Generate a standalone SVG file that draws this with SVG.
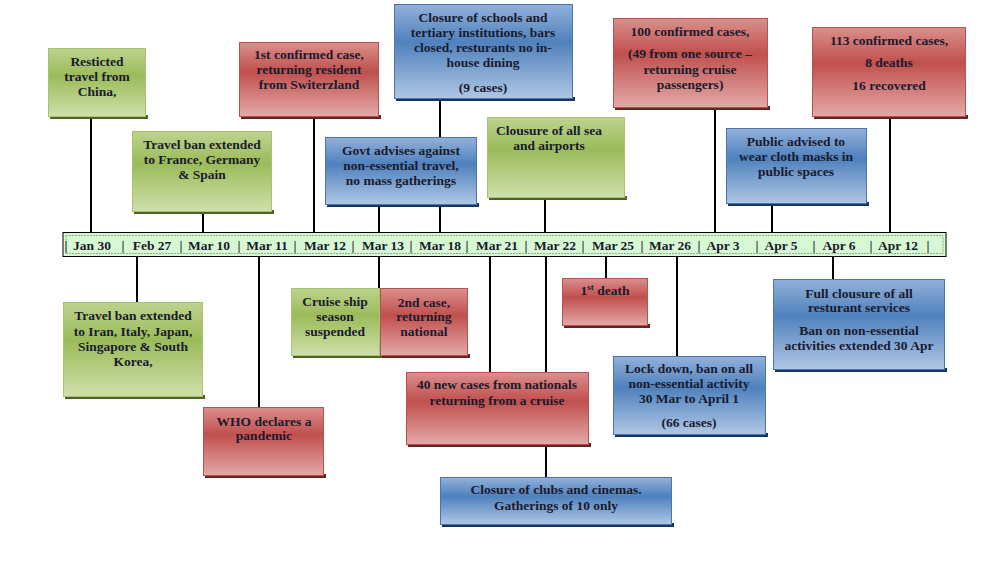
<svg xmlns="http://www.w3.org/2000/svg" width="993" height="564" viewBox="0 0 993 564">
<defs>
<linearGradient id="gG" x1="0" y1="0" x2="0" y2="1">
<stop offset="0" stop-color="#bdd38f"/><stop offset="0.4" stop-color="#9bbb59"/><stop offset="1" stop-color="#cfe0ab"/>
</linearGradient>
<linearGradient id="gR" x1="0" y1="0" x2="0" y2="1">
<stop offset="0" stop-color="#db8f8d"/><stop offset="0.4" stop-color="#c0504d"/><stop offset="1" stop-color="#e3aaa8"/>
</linearGradient>
<linearGradient id="gB" x1="0" y1="0" x2="0" y2="1">
<stop offset="0" stop-color="#93b1da"/><stop offset="0.4" stop-color="#4f81bd"/><stop offset="1" stop-color="#b0c7e5"/>
</linearGradient>
<style>
.g{fill:url(#gG);stroke:#a6c46d;stroke-width:1}
.r{fill:url(#gR);stroke:#b9514e;stroke-width:1}
.b{fill:url(#gB);stroke:#4a76ad;stroke-width:1}
.sg{fill:#4f6228}
.sr{fill:#632523}
.sb{fill:#17375e}
text{font-family:"Liberation Serif","Times New Roman",serif;font-weight:bold;font-size:13.5px;fill:#1a1a2e;text-anchor:middle}
.tl{font-size:13.5px}
.c line{stroke:#000;stroke-width:2}
</style>
</defs>
<rect width="993" height="564" fill="#ffffff"/>

<g class="c" id="connectors">
<line x1="91" y1="117" x2="91" y2="233"/>
<line x1="203" y1="212" x2="203" y2="233"/>
<line x1="314" y1="117" x2="314" y2="233"/>
<line x1="379" y1="205" x2="379" y2="233"/>
<line x1="440" y1="99" x2="440" y2="233"/>
<line x1="545" y1="199" x2="545" y2="233"/>
<line x1="715" y1="108" x2="715" y2="233"/>
<line x1="772" y1="204" x2="772" y2="233"/>
<line x1="890" y1="118" x2="890" y2="233"/>
<line x1="137" y1="256" x2="137" y2="302"/>
<line x1="259" y1="256" x2="259" y2="407"/>
<line x1="379" y1="256" x2="379" y2="288"/>
<line x1="490" y1="256" x2="490" y2="372"/>
<line x1="546" y1="256" x2="546" y2="372"/>
<line x1="546" y1="445" x2="546" y2="477"/>
<line x1="606" y1="256" x2="606" y2="278"/>
<line x1="677" y1="256" x2="677" y2="356"/>
<line x1="833" y1="246" x2="833" y2="279"/>
</g>

<g id="timeline">
<rect x="63" y="232.5" width="883" height="24" fill="#d6f8d2" stroke="#000" stroke-width="1"/>
<rect x="66" y="235.5" width="877" height="18" fill="none" stroke="#8fae8a" stroke-width="1" stroke-dasharray="2,1"/>
<text class="tl" x="66" y="250">|</text>
<text class="tl" x="92" y="250">Jan 30</text>
<text class="tl" x="123" y="250">|</text>
<text class="tl" x="152" y="250">Feb 27</text>
<text class="tl" x="181" y="250">|</text>
<text class="tl" x="209" y="250">Mar 10</text>
<text class="tl" x="239" y="250">|</text>
<text class="tl" x="267" y="250">Mar 11</text>
<text class="tl" x="295" y="250">|</text>
<text class="tl" x="325" y="250">Mar 12</text>
<text class="tl" x="353" y="250">|</text>
<text class="tl" x="383" y="250">Mar 13</text>
<text class="tl" x="411" y="250">|</text>
<text class="tl" x="440" y="250">Mar 18</text>
<text class="tl" x="467" y="250">|</text>
<text class="tl" x="497" y="250">Mar 21</text>
<text class="tl" x="526" y="250">|</text>
<text class="tl" x="555" y="250">Mar 22</text>
<text class="tl" x="583" y="250">|</text>
<text class="tl" x="613" y="250">Mar 25</text>
<text class="tl" x="642" y="250">|</text>
<text class="tl" x="670" y="250">Mar 26</text>
<text class="tl" x="699" y="250">|</text>
<text class="tl" x="723" y="250">Apr 3</text>
<text class="tl" x="757" y="250">|</text>
<text class="tl" x="781" y="250">Apr 5</text>
<text class="tl" x="814" y="250">|</text>
<text class="tl" x="839" y="250">Apr 6</text>
<text class="tl" x="871" y="250">|</text>
<text class="tl" x="898" y="250">Apr 12</text>
<text class="tl" x="928" y="250">|</text>
</g>

<g id="n-china">
<rect class="sg" x="50" y="115" width="98" height="4"/>
<rect class="g" x="48.5" y="48.5" width="97" height="68"/>
<text x="97" y="66">Resticted</text><text x="97" y="81">travel from</text><text x="97" y="96">China,</text>
</g>
<g id="n-france">
<rect class="sg" x="134" y="210" width="140" height="4"/>
<rect class="g" x="132.5" y="131.5" width="139" height="80"/>
<text x="202" y="149">Travel ban extended</text><text x="202" y="164">to France, Germany</text><text x="202" y="179">&amp; Spain</text>
</g>
<g id="n-first-case">
<rect class="sr" x="241" y="115" width="140" height="4"/>
<rect class="r" x="239.5" y="42.5" width="139" height="74"/>
<text x="309" y="59">1st confirmed case,</text><text x="309" y="74">returning resident</text><text x="309" y="89">from Switerzland</text>
</g>
<g id="n-govt">
<rect class="sb" x="327" y="203" width="152" height="4"/>
<rect class="b" x="325.5" y="137.5" width="151" height="67"/>
<text x="401" y="155">Govt advises against</text><text x="401" y="170">non-essential travel,</text><text x="401" y="185">no mass gatherings</text>
</g>
<g id="n-schools">
<rect class="sb" x="396" y="97" width="179" height="4"/>
<rect class="b" x="394.5" y="4.5" width="178" height="94"/>
<text x="483" y="22">Closure of schools and</text><text x="483" y="37">tertiary institutions, bars</text><text x="483" y="52">closed, resturants no in-</text><text x="483" y="67">house dining</text><text x="483" y="92">(9 cases)</text>
</g>
<g id="n-sea">
<rect class="sg" x="489" y="196" width="138" height="4"/>
<rect class="g" x="487.5" y="117.5" width="137" height="80"/>
<text x="549" y="135">Clousure of all sea</text><text x="549" y="150">and airports</text>
</g>
<g id="n-100">
<rect class="sr" x="615" y="106" width="155" height="4"/>
<rect class="r" x="613.5" y="18.5" width="154" height="89"/>
<text x="690" y="36">100 confirmed cases,</text><text x="690" y="58">(49 from one source –</text><text x="690" y="74">returning cruise</text><text x="690" y="89">passengers)</text>
</g>
<g id="n-113">
<rect class="sr" x="814" y="115" width="154" height="4"/>
<rect class="r" x="812.5" y="27.5" width="153" height="89"/>
<text x="889" y="45">113 confirmed cases,</text><text x="889" y="67">8 deaths</text><text x="889" y="90">16 recovered</text>
</g>
<g id="n-masks">
<rect class="sb" x="728" y="202" width="141" height="4"/>
<rect class="b" x="726.5" y="128.5" width="140" height="75"/>
<text x="796" y="146">Public advised to</text><text x="796" y="161">wear cloth masks in</text><text x="796" y="176">public spaces</text>
</g>
<g id="n-iran">
<rect class="sg" x="65" y="395" width="140" height="4"/>
<rect class="g" x="63.5" y="302.5" width="139" height="94"/>
<text x="133" y="320">Travel ban extended</text><text x="133" y="336">to Iran, Italy, Japan,</text><text x="133" y="351">Singapore &amp; South</text><text x="133" y="366">Korea,</text>
</g>
<g id="n-who">
<rect class="sr" x="205" y="474" width="121" height="4"/>
<rect class="r" x="203.5" y="407.5" width="120" height="68"/>
<text x="264" y="426">WHO declares a</text><text x="264" y="440">pandemic</text>
</g>
<g id="n-cruise">
<rect class="sg" x="293" y="354" width="89" height="4"/>
<rect class="g" x="291.5" y="288.5" width="88" height="67"/>
<text x="335" y="306">Cruise ship</text><text x="335" y="321">season</text><text x="335" y="336">suspended</text>
</g>
<g id="n-second">
<rect class="sr" x="382" y="354" width="88" height="4"/>
<rect class="r" x="380.5" y="288.5" width="87" height="67"/>
<text x="424" y="307">2nd case,</text><text x="424" y="321">returning</text><text x="424" y="336">national</text>
</g>
<g id="n-death">
<rect class="sr" x="564" y="324" width="86" height="4"/>
<rect class="r" x="562.5" y="278.5" width="85" height="47"/>
<text x="605" y="295">1<tspan font-size="9" dy="-5">st</tspan><tspan dy="5"> death</tspan></text>
</g>
<g id="n-40">
<rect class="sr" x="408" y="443" width="183" height="4"/>
<rect class="r" x="406.5" y="372.5" width="182" height="72"/>
<text x="497" y="389">40 new cases from nationals</text><text x="497" y="405">returning from a cruise</text>
</g>
<g id="n-lockdown">
<rect class="sb" x="615" y="433" width="153" height="4"/>
<rect class="b" x="613.5" y="356.5" width="152" height="78"/>
<text x="689" y="373">Lock down, ban on all</text><text x="689" y="388">non-essential activity</text><text x="689" y="403">30 Mar to April 1</text><text x="689" y="427">(66 cases)</text>
</g>
<g id="n-clubs">
<rect class="sb" x="442" y="523" width="232" height="4"/>
<rect class="b" x="440.5" y="477.5" width="231" height="47"/>
<text x="556" y="494">Closure of  clubs and cinemas.</text><text x="556" y="510">Gatherings of 10 only</text>
</g>
<g id="n-restaurant">
<rect class="sb" x="775" y="368" width="172" height="4"/>
<rect class="b" x="773.5" y="279.5" width="171" height="90"/>
<text x="859" y="298">Full clousure of all</text><text x="859" y="312">resturant services</text><text x="859" y="335">Ban on non-essential</text><text x="859" y="350">activities extended 30 Apr</text>
</g>
</svg>
